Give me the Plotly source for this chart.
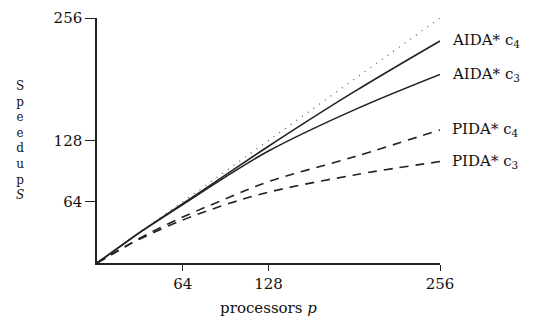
import plotly.graph_objects as go

p = [0, 16, 32, 64, 96, 128, 192, 256]
ideal = [0, 16, 32, 64, 96, 128, 192, 256]
aida_c4 = [0, 16, 32, 62, 92, 122, 179, 232]
aida_c3 = [0, 16, 32, 61, 90, 117, 160, 197]
pida_c4 = [0, 13, 26, 48, 67, 85, 111, 139]
pida_c3 = [0, 13, 25, 45, 61, 74, 92, 106]
labels = ["AIDA* c<sub>4</sub>", "AIDA* c<sub>3</sub>", "PIDA* c<sub>4</sub>", "PIDA* c<sub>3</sub>"]
xticks = [64, 128, 256]
yticks = [64, 128, 256]

FONT = "DejaVu Serif"

fig = go.Figure()
fig.add_trace(go.Scatter(x=p, y=ideal, mode="lines",
                         line=dict(color="#555", width=1.2, dash="1px,6px"), cliponaxis=False))
series = [(aida_c4, "solid"), (aida_c3, "solid"), (pida_c4, "9px,7px"), (pida_c3, "9px,7px")]
for ys, dash in series:
    fig.add_trace(go.Scatter(x=p, y=ys, mode="lines", line_shape="spline",
                             line=dict(color="#222", width=1.6, dash=dash), cliponaxis=False))

for ys, lab in zip([aida_c4, aida_c3, pida_c4, pida_c3], labels):
    fig.add_annotation(x=p[-1], y=ys[-1], text=lab, showarrow=False, xanchor="left",
                       xshift=10, font=dict(family=FONT, size=15, color="#111"))

fig.add_annotation(xref="paper", yref="paper", x=-0.225, y=0.50, xanchor="center",
                   text="S<br>p<br>e<br>e<br>d<br>u<br>p<br><i>S</i>", showarrow=False,
                   font=dict(family=FONT, size=12, color="#111"), align="center")

fig.update_layout(
    width=539, height=322,
    margin=dict(l=89, r=107, t=10, b=67, autoexpand=False),
    plot_bgcolor="white", paper_bgcolor="white",
    showlegend=False,
    font=dict(family=FONT, size=15, color="#111"),
    xaxis=dict(range=[0, 256], tickvals=xticks, ticks="outside", ticklen=6,
               showline=True, linecolor="#222", linewidth=1.5, showgrid=False, zeroline=False,
               tickcolor="#222", ticklabeloverflow="allow",
               title=dict(text="processors <i>p</i>", standoff=11,
                          font=dict(family=FONT, size=15))),
    yaxis=dict(range=[0, 256], tickvals=yticks, ticks="outside", ticklen=10,
               showline=True, linecolor="#222", linewidth=1.5, showgrid=False, zeroline=False,
               tickcolor="#222", ticklabeloverflow="allow"),
)
fig.write_html("out.html")
